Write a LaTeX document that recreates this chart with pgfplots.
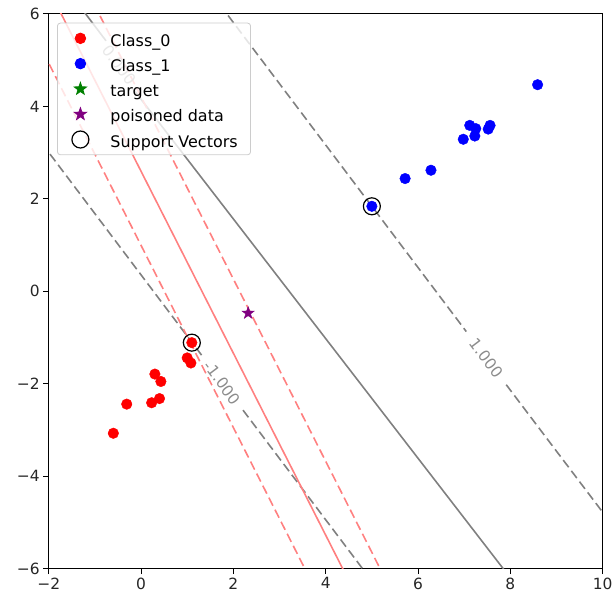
\documentclass[border=0pt]{standalone}
\usepackage{fontspec}
\setmainfont{DejaVu Sans}
\usepackage{pgfplots}
\pgfplotsset{compat=1.18}
\definecolor{svmgray}{HTML}{808080}
\definecolor{polred}{HTML}{FF8080}
\definecolor{lbl}{HTML}{8C8C8C}
\definecolor{purp}{HTML}{800080}
\definecolor{grn}{HTML}{008000}
\definecolor{legedge}{HTML}{CCCCCC}
\newcommand\ls{\rule[-8.8bp]{0pt}{25.8bp}}

\pgfdeclareplotmark{fstar}{%
 \pgfpathmoveto{\pgfpointpolar{90}{\pgfplotmarksize}}%
 \pgfpathlineto{\pgfpointpolar{126}{0.4\pgfplotmarksize}}%
 \pgfpathlineto{\pgfpointpolar{162}{\pgfplotmarksize}}%
 \pgfpathlineto{\pgfpointpolar{198}{0.4\pgfplotmarksize}}%
 \pgfpathlineto{\pgfpointpolar{234}{\pgfplotmarksize}}%
 \pgfpathlineto{\pgfpointpolar{270}{0.4\pgfplotmarksize}}%
 \pgfpathlineto{\pgfpointpolar{306}{\pgfplotmarksize}}%
 \pgfpathlineto{\pgfpointpolar{342}{0.4\pgfplotmarksize}}%
 \pgfpathlineto{\pgfpointpolar{18}{\pgfplotmarksize}}%
 \pgfpathlineto{\pgfpointpolar{54}{0.4\pgfplotmarksize}}%
 \pgfpathclose
 \pgfusepathqfillstroke}

\begin{document}
\begin{tikzpicture}
\useasboundingbox (-48.7bp,-32.3bp) rectangle (563.3bp,568.7bp);
\begin{axis}[
  scale only axis, width=554bp, height=554.7bp,
  xmin=-2, xmax=10, ymin=-6, ymax=6,
  xtick={-2,0,2,4,6,8,10}, xticklabels={−2,0,2,4,6,8,10},
  ytick={-6,-4,-2,0,2,4,6}, yticklabels={−6,−4,−2,0,2,4,6},
  tick pos=left, tick align=outside, major tick length=5.5bp,
  every tick/.style={black, line width=1bp},
  axis line style={black, line width=1bp},
  ticklabel style={font=\fontsize{15.5}{18}\selectfont, text=black!85},
  legend style={at={(0.015,0.9843)}, anchor=north west, draw=legedge, line width=0.8bp,
    rounded corners=3bp, fill=white, fill opacity=0.8, text opacity=1,
    font=\fontsize{16}{19}\selectfont, inner xsep=11bp, inner ysep=4bp,
    row sep=2.8bp, nodes={inner sep=2bp}},
  legend cell align=left,
  legend image code/.code={\path[draw=none, fill=none] (0bp,-4bp) rectangle (40bp,4bp); \draw[#1, fill opacity=1] plot coordinates {(12bp,0bp)};},
]
% original SVM (gray)
\addplot[svmgray, line width=1.6bp, forget plot] coordinates {(8.0,-6.2) (-0.174,4.38)};
\addplot[svmgray, line width=1.6bp, forget plot] coordinates {(-0.759,5.42) (-1.35,6.2)};
\addplot[svmgray, line width=1.6bp, dash pattern=on 9bp off 4.5bp, forget plot] coordinates {(1.71,6.2) (7.045,-0.87)};
\addplot[svmgray, line width=1.6bp, dash pattern=on 9bp off 4.5bp, forget plot] coordinates {(7.91,-2.02) (11.0,-6.1)};
\addplot[svmgray, line width=1.6bp, dash pattern=on 9bp off 4.5bp, forget plot] coordinates {(-4.26,6) (1.311,-1.38)};
\addplot[svmgray, line width=1.6bp, dash pattern=on 9bp off 4.5bp, forget plot] coordinates {(2.209,-2.57) (4.95,-6.2)};
% poisoned SVM (red)
\addplot[polred, line width=1.6bp, forget plot] coordinates {(4.47,-6.2) (-1.83,6.2)};
\addplot[polred, line width=1.6bp, dash pattern=on 9bp off 4.5bp, forget plot] coordinates {(3.65,-6.2) (-2.64,6.2)};
\addplot[polred, line width=1.6bp, dash pattern=on 9bp off 4.5bp, forget plot] coordinates {(5.28,-6.2) (-1.01,6.2)};
% contour labels
\node[rotate=-52.9, text=lbl, font=\fontsize{15.5}{18}\selectfont] at (axis cs:1.76,-1.975) {-1.000};
\node[rotate=-52.9, text=lbl, font=\fontsize{15.5}{18}\selectfont] at (axis cs:7.48,-1.445) {1.000};
\node[rotate=-52.9, text=lbl, font=\fontsize{15.5}{18}\selectfont] at (axis cs:-0.466,4.9) {0.000};
% data
\addplot[only marks, mark=*, mark size=5.3bp, draw=red, fill=red] coordinates {
 (1.10,-1.11) (1.00,-1.44) (1.08,-1.55) (0.30,-1.79) (0.43,-1.95)
 (-0.31,-2.44) (0.23,-2.41) (0.40,-2.32) (-0.60,-3.07)};
\addlegendentry{Class\_0\ls}
\addplot[only marks, mark=*, mark size=5.3bp, draw=blue, fill=blue] coordinates {
 (8.59,4.47) (7.12,3.59) (7.25,3.52) (7.23,3.36) (6.98,3.29)
 (7.56,3.59) (7.52,3.51) (6.28,2.62) (5.72,2.44) (5.00,1.84)};
\addlegendentry{Class\_1\ls}
\addlegendimage{only marks, mark=fstar, mark size=6.5bp, draw=grn, fill=grn}
\addlegendentry{target\ls}
\addplot[only marks, mark=fstar, mark size=6.5bp, draw=purp, fill=purp] coordinates {(2.32,-0.47)};
\addlegendentry{poisoned data\ls}
\addplot[only marks, mark=o, mark size=8.5bp, draw=black, line width=1.2bp] coordinates {(1.10,-1.11) (5.00,1.84)};
\addlegendentry{Support Vectors\ls}
\end{axis}
\end{tikzpicture}
\end{document}
